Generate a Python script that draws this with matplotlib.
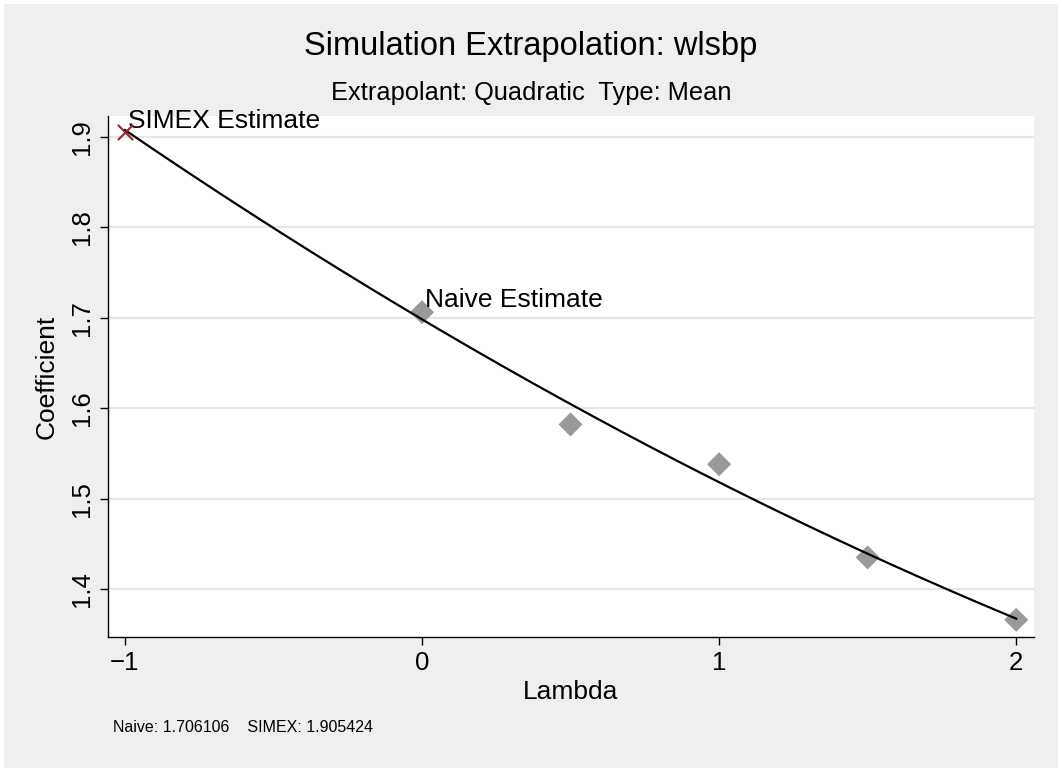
import matplotlib.pyplot as plt
import numpy as np
from matplotlib.patches import Rectangle

plt.rcParams['font.family'] = ['Liberation Sans', 'DejaVu Sans']

# Simulationsschritte (lambda) und gemittelte Koeffizienten
lambdas = np.array([0.0, 0.5, 1.0, 1.5, 2.0])
coefs = np.array([1.706106, 1.582, 1.538, 1.435, 1.366])

naive_est = 1.706106
simex_est = 1.905424

y_ticks = [1.4, 1.5, 1.6, 1.7, 1.8, 1.9]
x_ticks = [-1, 0, 1, 2]
x_ticklabels = ['\u22121', '0', '1', '2']

# quadratischer Extrapolant durch die Simulationspunkte
quad = np.polyfit(lambdas, coefs, 2)
lam_grid = np.linspace(-1, 2, 200)
fit_line = np.polyval(quad, lam_grid)

fig = plt.figure(figsize=(10.62, 7.72), dpi=100, facecolor='white')
# grauer Hintergrund mit schmalem weissen Rand
fig.patches.append(Rectangle((4 / 1062, 4 / 772), 1 - 8 / 1062, 1 - 8 / 772,
                             transform=fig.transFigure, facecolor='#efefef',
                             edgecolor='none', zorder=-10))

ax = fig.add_axes([108 / 1062, 1 - 637 / 772, 926 / 1062, 521 / 772])
ax.set_facecolor('white')

ax.plot(lam_grid, fit_line, color='black', lw=1.6, zorder=3)
ax.scatter(lambdas, coefs, marker='D', s=150, color='#999999', edgecolors='none', zorder=2)
ax.scatter([-1], [simex_est], marker='x', s=120, color='#8c2a33', linewidths=1.5, zorder=4)

ax.annotate('SIMEX Estimate', (-1, simex_est), xytext=(2, 3), textcoords='offset points',
            ha='left', va='baseline', fontsize=19)
ax.annotate('Naive Estimate', (0, naive_est), xytext=(2, 3.5), textcoords='offset points',
            ha='left', va='baseline', fontsize=19)

ax.set_xlim(-1.057, 2.06)
ax.set_ylim(1.347, 1.923)
ax.set_xticks(x_ticks)
ax.set_xticklabels(x_ticklabels)
ax.set_yticks(y_ticks)
ax.set_yticklabels([f'{v:.1f}' for v in y_ticks], rotation=90, va='center')
ax.tick_params(axis='both', labelsize=18.5, length=6, width=1, direction='out',
               colors='black', pad=4)
ax.grid(axis='y', color='#e6e6e6', lw=1.6)
ax.set_axisbelow(True)

for side in ['top', 'right']:
    ax.spines[side].set_visible(False)
for side in ['left', 'bottom']:
    ax.spines[side].set_linewidth(1)

ax.set_xlabel('Lambda', fontsize=19, labelpad=4)
ax.set_ylabel('Coefficient', fontsize=19, labelpad=8)

fig.text(531 / 1062, 1 - 47 / 772, 'Simulation Extrapolation: wlsbp', ha='center', va='center',
         fontsize=23.5)
fig.text(531 / 1062, 1 - 93 / 772, 'Extrapolant: Quadratic  Type: Mean', ha='center', va='center',
         fontsize=18.3)
fig.text(113 / 1062, 1 - 727 / 772, f'Naive: {naive_est:.6f}    SIMEX: {simex_est:.6f}',
         ha='left', va='center', fontsize=11.5)

fig.savefig('out.png', dpi=100, facecolor=fig.get_facecolor())
